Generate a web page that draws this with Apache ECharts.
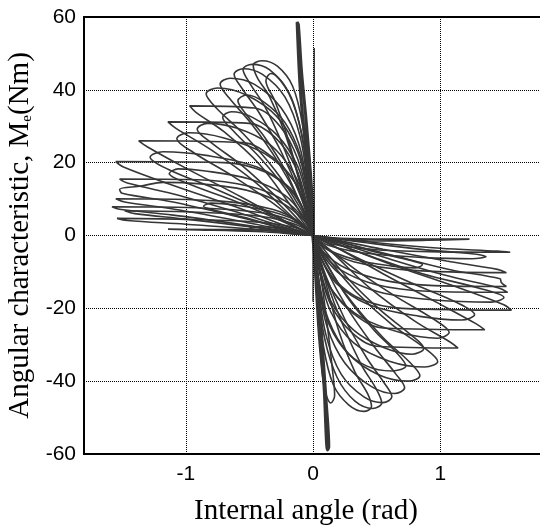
<!DOCTYPE html>
<html><head><meta charset="utf-8">
<script src="https://cdn.jsdelivr.net/npm/echarts@6/dist/echarts.min.js"></script>
<style>html,body{margin:0;padding:0;background:#fff}#c{width:540px;height:527px}</style>
</head><body><div id="c"></div>
<script>
// Tick / grid values
const xGridValues = [-1, 0, 1];
const yGridValues = [-40, -20, 0, 20, 40];

// Upper-left loops (internal angle, torque)
const upperLoops = [
  [[0,0],[-0.03,14],[-0.08,30],[-0.16,41],[-0.28,46.5],[-0.4,48],[-0.47,46.8],[-0.44,43.5],[-0.34,38],[-0.22,28],[-0.1,14],[0,0]],
  [[0,0],[-0.03,13],[-0.09,28],[-0.19,39],[-0.34,45.5],[-0.48,47],[-0.55,45.6],[-0.5,42],[-0.38,35.5],[-0.24,25],[-0.1,12],[0,0]],
  [[0,0],[-0.04,13],[-0.1,27],[-0.22,38],[-0.4,44.3],[-0.55,45.8],[-0.62,44.3],[-0.56,40.5],[-0.42,33.5],[-0.25,23],[-0.1,11],[0,0]],
  [[0,0],[-0.04,12],[-0.11,25],[-0.25,35],[-0.46,41.5],[-0.65,43.2],[-0.73,41.6],[-0.66,37.8],[-0.48,30.5],[-0.28,20.5],[-0.1,9],[0,0]],
  [[0,0],[-0.04,11],[-0.12,23],[-0.28,32.5],[-0.52,38.5],[-0.75,40.5],[-0.84,38.9],[-0.76,35],[-0.55,28],[-0.3,18],[-0.1,7.5],[0,0]],
  [[0,0],[-0.04,11],[-0.1,22],[-0.22,31],[-0.38,36.5],[-0.52,38.6],[-0.59,37],[-0.53,33.5],[-0.38,27],[-0.22,18],[-0.08,7],[0,0]],
  [[0,0],[-0.04,10],[-0.12,21],[-0.26,30],[-0.46,35],[-0.97,35.6],[-0.92,33.8],[-0.7,28.5],[-0.42,19.5],[-0.16,7.5],[0,0]],
  [[0,0],[-0.04,9],[-0.12,19],[-0.28,27.5],[-0.48,32.5],[-0.64,34],[-0.71,32.5],[-0.62,28.5],[-0.42,21.5],[-0.22,13],[-0.07,4.5],[0,0]],
  [[0,0],[-0.05,9],[-0.14,19],[-0.3,27],[-0.5,30.8],[-1.14,31.2],[-1.08,29.5],[-0.8,23.5],[-0.45,14.5],[-0.16,5],[0,0]],
  [[0,0],[-0.05,8],[-0.15,17],[-0.34,25],[-0.6,29.5],[-0.83,30.8],[-0.91,29.2],[-0.8,25.5],[-0.55,19],[-0.3,11],[-0.1,3.8],[0,0]],
  [[0,0],[-0.05,7.5],[-0.16,15.5],[-0.38,22.5],[-0.7,26.8],[-0.98,28.2],[-1.07,26.6],[-0.94,22.8],[-0.64,16.5],[-0.34,9.5],[-0.1,3],[0,0]],
  [[0,0],[-0.05,7],[-0.15,15],[-0.32,21.5],[-0.55,25.5],[-1.37,26],[-1.3,24.3],[-1.0,18.5],[-0.56,10.5],[-0.18,3.2],[0,0]],
  [[0,0],[-0.06,6],[-0.18,13],[-0.44,18.8],[-0.84,22],[-1.18,23],[-1.28,21.5],[-1.14,18.2],[-0.78,13],[-0.4,7],[-0.12,2.2],[0,0]],
  [[0,0],[-0.06,6],[-0.18,12.5],[-0.38,17.5],[-0.7,20],[-1.55,20.3],[-1.49,18.8],[-1.12,14],[-0.62,8],[-0.2,2.4],[0,0]],
  [[0,0],[-0.07,5],[-0.22,11],[-0.5,15.5],[-0.86,17.8],[-1.06,18.3],[-1.13,17],[-0.98,14.2],[-0.64,9.8],[-0.3,4.8],[-0.08,1.3],[0,0]],
  [[0,0],[-0.07,4.5],[-0.22,9.5],[-0.5,13.5],[-0.9,15.3],[-1.52,15.5],[-1.46,14.4],[-1.05,11],[-0.56,6],[-0.18,1.8],[0,0]],
  [[0,0],[-0.08,4.5],[-0.26,9.2],[-0.6,13],[-1.18,14.6],[-1.35,13.6],[-1.52,12.7],[-1.5,11.6],[-1.1,9.2],[-0.6,5.2],[-0.18,1.5],[0,0]],
  [[0,0],[-0.1,3.6],[-0.32,7.2],[-0.75,9.5],[-1.55,10.1],[-1.48,9.2],[-1.05,7],[-0.55,3.8],[-0.15,1],[0,0]],
  [[0,0],[-0.1,3],[-0.36,6],[-0.85,7.5],[-1.58,7.9],[-1.52,7.2],[-1.1,5.6],[-0.6,3.2],[-0.15,0.8],[0,0]],
  [[0,0],[-0.12,2.8],[-0.4,5.2],[-0.9,6.4],[-1.48,6.8],[-1.4,6],[-1.0,4.5],[-0.52,2.5],[-0.12,0.6],[0,0]],
  [[0,0],[-0.14,2.2],[-0.45,3.7],[-0.95,4.4],[-1.54,4.7],[-1.46,4.1],[-1.0,3.1],[-0.5,1.8],[-0.12,0.4],[0,0]],
  [[0,0],[-0.2,1.2],[-0.6,1.6],[-1.14,1.7],[-0.9,1.55],[-0.45,1.1],[-0.1,0.3],[0,0]],
  [[0,0],[-0.1,3.5],[-0.32,6.5],[-0.62,8.4],[-0.8,8.9],[-0.86,8],[-0.76,6.8],[-0.5,4.6],[-0.2,1.6],[0,0]],
  [[0,0],[-0.15,1.6],[-0.42,2.4],[-0.5,2.0],[-0.3,1.2],[0,0]],
  [[0,0],[-0.03,12],[-0.08,26],[-0.15,36],[-0.24,42],[-0.33,44.5],[-0.37,42.5],[-0.3,37],[-0.2,27],[-0.09,13],[0,0]]
];

// Lower-right loops
const lowerLoops = [
  [[0,0],[0.03,-14],[0.08,-30],[0.16,-41],[0.28,-46.5],[0.4,-48.3],[0.46,-47],[0.43,-43.5],[0.33,-37.5],[0.21,-27],[0.1,-13],[0,0]],
  [[0,0],[0.03,-13],[0.09,-28],[0.19,-39],[0.33,-45.5],[0.47,-47.5],[0.54,-46],[0.5,-42.3],[0.38,-35.5],[0.24,-25],[0.1,-12],[0,0]],
  [[0,0],[0.04,-13],[0.1,-27],[0.22,-38],[0.4,-44.3],[0.55,-45.9],[0.62,-44.3],[0.56,-40.5],[0.42,-33.5],[0.25,-23],[0.1,-11],[0,0]],
  [[0,0],[0.04,-12],[0.11,-25],[0.25,-35],[0.46,-41.5],[0.64,-43.4],[0.72,-41.8],[0.65,-38],[0.48,-30.5],[0.28,-20.5],[0.1,-9],[0,0]],
  [[0,0],[0.04,-11],[0.12,-23],[0.28,-32.5],[0.52,-38.3],[0.75,-40],[0.84,-38.5],[0.76,-34.8],[0.55,-28],[0.3,-18],[0.1,-7.5],[0,0]],
  [[0,0],[0.05,-10],[0.14,-21],[0.32,-29.5],[0.6,-34.5],[0.88,-36.1],[0.98,-34.6],[0.88,-31],[0.62,-24.5],[0.34,-15.5],[0.11,-6],[0,0]],
  [[0,0],[0.04,-11],[0.1,-22],[0.24,-31],[0.42,-35.8],[0.62,-37.2],[0.73,-35.8],[0.66,-32.3],[0.48,-26],[0.27,-17],[0.09,-6.5],[0,0]],
  [[0,0],[0.05,-9],[0.14,-19],[0.3,-26.5],[0.5,-30.4],[1.14,-30.9],[1.08,-29.3],[0.8,-23.5],[0.45,-14.5],[0.16,-5],[0,0]],
  [[0,0],[0.05,-7.5],[0.16,-15.5],[0.38,-22.5],[0.7,-26.8],[0.98,-28.2],[1.07,-26.6],[0.94,-22.8],[0.64,-16.5],[0.34,-9.5],[0.1,-3],[0,0]],
  [[0,0],[0.05,-8.5],[0.14,-18],[0.32,-26],[0.56,-30.8],[0.78,-32.6],[0.87,-31],[0.77,-27.3],[0.53,-20.5],[0.28,-12],[0.09,-4],[0,0]],
  [[0,0],[0.05,-7],[0.15,-15],[0.32,-21.5],[0.55,-25.4],[1.35,-25.9],[1.28,-24.2],[0.98,-18.5],[0.55,-10.5],[0.18,-3.2],[0,0]],
  [[0,0],[0.06,-6],[0.18,-13],[0.44,-19],[0.84,-22.2],[1.17,-23.2],[1.27,-21.7],[1.13,-18.4],[0.77,-13],[0.4,-7],[0.12,-2.2],[0,0]],
  [[0,0],[0.06,-6],[0.18,-12.5],[0.38,-17.5],[0.7,-20],[1.56,-20.5],[1.5,-19],[1.12,-14],[0.62,-8],[0.2,-2.4],[0,0]],
  [[0,0],[0.07,-5],[0.22,-10.8],[0.52,-15.5],[0.98,-17.8],[1.4,-18.3],[1.5,-17],[1.32,-14.6],[0.86,-10.5],[0.42,-5.3],[0.1,-1.3],[0,0]],
  [[0,0],[0.07,-4.5],[0.22,-9.5],[0.5,-13.5],[0.9,-15.3],[1.53,-15.6],[1.46,-14.4],[1.05,-11],[0.56,-6],[0.18,-1.8],[0,0]],
  [[0,0],[0.08,-4.5],[0.26,-9],[0.6,-12.6],[1.1,-13.9],[1.52,-14],[1.48,-12.9],[1.47,-11.9],[1.08,-9.4],[0.6,-5.2],[0.18,-1.5],[0,0]],
  [[0,0],[0.1,-3.6],[0.32,-7.2],[0.75,-9.5],[1.52,-10.2],[1.45,-9.3],[1.05,-7],[0.55,-3.8],[0.15,-1],[0,0]],
  [[0,0],[0.12,-2.7],[0.4,-4.8],[0.85,-6],[1.25,-6.4],[1.36,-5.8],[1.25,-5],[0.85,-3.8],[0.42,-2],[0.1,-0.5],[0,0]],
  [[0,0],[0.16,-2.4],[0.5,-3.9],[1.0,-4.5],[1.55,-4.6],[1.45,-4.3],[1.0,-3.5],[0.5,-2],[0.12,-0.5],[0,0]],
  [[0,0],[0.2,-0.8],[0.6,-1.0],[1.23,-1.0],[0.9,-1.3],[0.45,-1.5],[0.1,-0.5],[0,0]],
  [[0,0],[0.1,-3.5],[0.32,-6.5],[0.62,-8.4],[0.8,-8.9],[0.86,-8],[0.76,-6.8],[0.5,-4.6],[0.2,-1.6],[0,0]],
  [[0,0],[0.02,-14],[0.05,-30],[0.09,-42],[0.14,-46],[0.17,-44],[0.15,-36],[0.11,-24],[0.06,-11],[0,0]]
];

// Steep bands near the axis
const bandUp = [[0,0],[-0.02,10],[-0.06,25],[-0.1,40],[-0.125,58.6],[-0.115,58],[-0.09,45],[-0.05,30],[-0.01,12],[0,0]];
const bandDown = [[0,0],[0.03,-12],[0.06,-28],[0.09,-42],[0.115,-58.8],[0.122,-58],[0.1,-45],[0.07,-30],[0.035,-12],[0,0]];
const spikeUp = [[0.01,0],[0.01,51.5]];
const spikeDown = [[0,0],[0,-18.2]];

const chart = echarts.init(document.getElementById('c'), null, {renderer: 'canvas'});
const lineColor = '#363636';
const series = [];
series.push({
  type: 'line', data: [[0,0]], symbol: 'none', lineStyle: {opacity: 0}, z: 1, silent: true,
  markLine: {
    silent: true, symbol: ['none','none'], label: {show: false}, animation: false,
    lineStyle: {type: 'dotted', color: '#000', width: 1},
    data: xGridValues.map(v => ({xAxis: v}))
  }
});
upperLoops.concat(lowerLoops).forEach(loop => {
  series.push({type: 'line', data: loop, smooth: 0.35, symbol: 'none', z: 3,
    lineStyle: {color: lineColor, width: 1.6}});
});
[bandUp, bandDown].forEach((b, i) => {
  series.push({type: 'line', data: b, smooth: 0.3, symbol: 'none', z: 4,
    lineStyle: {color: lineColor, width: i === 0 ? 3 : 3.6}});
});
[spikeUp, spikeDown].forEach(s => {
  series.push({type: 'line', data: s, symbol: 'none', z: 4,
    lineStyle: {color: lineColor, width: 1.4}});
});

chart.setOption({
  animation: false,
  backgroundColor: '#fff',
  grid: {left: 84, top: 17, width: 458, height: 437, show: true, borderColor: '#000', borderWidth: 2,
    backgroundColor: 'transparent', outerBoundsMode: 'none', containLabel: false},
  xAxis: {
    type: 'value', min: -1.8, max: 1.8, interval: 0.2,
    axisLine: {show: false}, axisTick: {show: false}, splitLine: {show: false},
    axisLabel: {
      margin: 10, color: '#000', fontSize: 21, fontFamily: 'Liberation Sans',
      formatter: v => Math.abs(v - Math.round(v)) < 1e-6 ? String(Math.round(v)) : ''
    },
    name: 'Internal angle (rad)', nameLocation: 'middle', nameGap: 43,
    nameTextStyle: {fontFamily: 'Liberation Serif', fontSize: 29, color: '#000', padding: [0, 14, 0, 0]}
  },
  yAxis: {
    type: 'value', min: -60, max: 60, interval: 20,
    axisLine: {show: false}, axisTick: {show: false},
    splitLine: {show: true, lineStyle: {type: 'dotted', color: '#000', width: 1}},
    axisLabel: {margin: 8, color: '#000', fontSize: 21, fontFamily: 'Liberation Sans'},
    name: 'Angular characteristic, M{sub|e}(Nm)', nameLocation: 'middle', nameGap: 43,
    nameTextStyle: {
      fontFamily: 'Liberation Serif', fontSize: 29, color: '#000',
      rich: {sub: {fontFamily: 'Liberation Serif', fontSize: 15, color: '#000', verticalAlign: 'bottom', padding: [12, 0, 0, 0]}}
    }
  },
  series: series
});
</script>
</body></html>
